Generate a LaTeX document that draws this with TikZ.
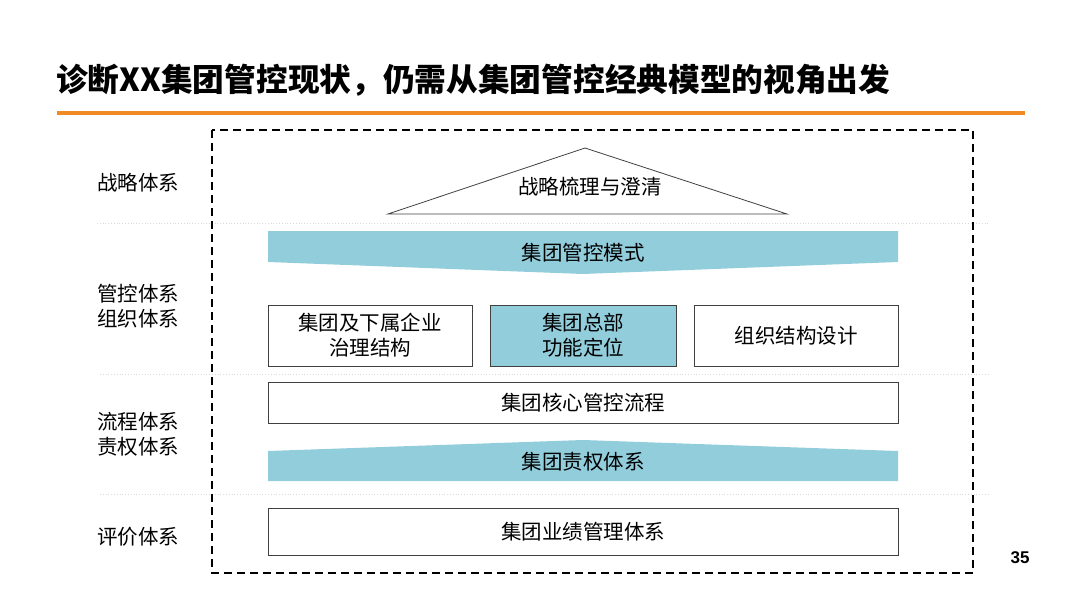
\documentclass[tikz,border=0pt]{standalone}
\usepackage{fontspec}
\setmainfont{Noto Sans CJK SC}
\newfontfamily\numfont{Liberation Sans}
\definecolor{bandblue}{HTML}{92CDDC}
\definecolor{lineorange}{HTML}{F08A24}
\begin{document}
\begin{tikzpicture}[x=1pt,y=-1pt,
	every node/.style={font=\fontsize{20.5}{25}\selectfont, align=center},
	box/.style={draw=black!75, line width=0.8pt, inner sep=0pt, minimum height=#1},
	band/.style={fill=bandblue, draw=none},
	sep/.style={draw=black!15, dotted, line width=0.8pt},
	side/.style={anchor=west, align=left, inner sep=0pt, font=\fontsize{20.5}{25}\selectfont}]
	\useasboundingbox (0,0) rectangle (1080,608);
	\node (title) at (56, 80)	[anchor=west, inner sep=0pt, font=\fontsize{31.7}{38}\selectfont\bfseries]	{诊断XX集团管控现状，仍需从集团管控经典模型的视角出发};
	\draw[lineorange, line width=4pt] (57,113) -- (1025,113);
	\draw[sep] (97,223) -- (990,223);
	\draw[sep] (100,374) -- (990,374);
	\draw[sep] (100,494) -- (990,494);
	\draw[dashed, line width=2pt, dash pattern=on 8pt off 5pt] (212,130) rectangle (973,573);
	\node (s1) at (97, 183)	[side]	{战略体系};
	\node (s2) at (97, 306)	[side]	{管控体系\\组织体系};
	\node (s3) at (97, 434)	[side]	{流程体系\\责权体系};
	\node (s4) at (97, 537)	[side]	{评价体系};
	\draw[black!75, line width=0.8pt] (585,148) -- (787,214) -- (388,214) -- cycle;
	\node (clarify) at (590, 187)	{战略梳理与澄清};
	\fill[band] (268,231) -- (898,231) -- (898,262) -- (583,274) -- (268,262) -- cycle;
	\node (mode) at (583, 253)	{集团管控模式};
	\node (gov) at (370, 335.5)	[box=61pt, minimum width=204pt, fill=white]	{集团及下属企业\\治理结构};
	\node (hq) at (583, 335.5)	[box=61pt, minimum width=186pt, fill=bandblue]	{集团总部\\功能定位};
	\node (org) at (796, 335.5)	[box=61pt, minimum width=204pt, fill=white]	{组织结构设计};
	\node (flow) at (583, 402.5)	[box=41pt, minimum width=630pt, fill=white]	{集团核心管控流程};
	\fill[band] (268,451) -- (583,440) -- (898,451) -- (898,481) -- (268,481) -- cycle;
	\node (duty) at (583, 462)	{集团责权体系};
	\node (perf) at (583, 531.5)	[box=47pt, minimum width=630pt, fill=white]	{集团业绩管理体系};
	\node (page) at (1020, 558)	[font=\numfont\bfseries\fontsize{17}{20}\selectfont]	{35};
\end{tikzpicture}
\end{document}
